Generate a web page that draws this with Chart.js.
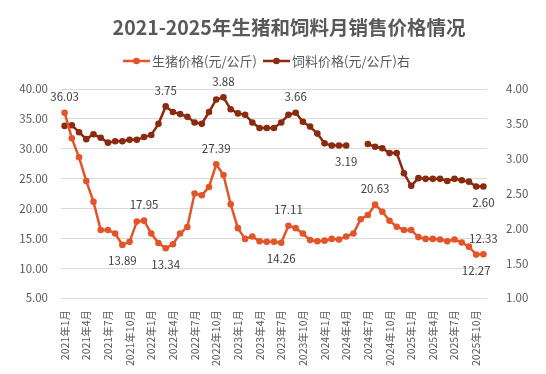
<!DOCTYPE html>
<html>
<head>
<meta charset="utf-8">
<script src="https://cdn.jsdelivr.net/npm/chart.js@4.4.1/dist/chart.umd.min.js"></script>
<style>
    html, body { margin: 0; padding: 0; background: #fff; }
    #wrap { width: 546px; height: 374px; }
</style>
</head>
<body>
<div id="wrap"><canvas id="priceChart"></canvas></div>
<script>
// 2021年1月 .. 2025年11月, monthly
const months = [];
for (let y = 2021; y <= 2025; y++) {
    for (let m = 1; m <= 12; m++) {
        if (months.length < 59) months.push(`${y}年${m}月`);
    }
}

const pigPrices = [
    36.03, 31.74, 28.56, 24.60, 21.10, 16.40, 16.40, 15.80, 13.89, 14.40, 17.80, 17.95,
    15.80, 14.20, 13.34, 14.00, 15.80, 16.90, 22.50, 22.20, 23.60, 27.39, 25.60, 20.70,
    16.70, 14.90, 15.30, 14.50, 14.40, 14.43, 14.26, 17.11, 16.70, 15.80, 14.70, 14.50,
    14.60, 14.90, 14.80, 15.30, 15.80, 18.20, 18.90, 20.63, 19.45, 17.94, 16.94, 16.40,
    16.40, 15.20, 14.90, 14.90, 14.80, 14.50, 14.80, 14.30, 13.60, 12.27, 12.33
];

const feedPrices = [
    3.47, 3.48, 3.38, 3.28, 3.35, 3.30, 3.23, 3.25, 3.25, 3.27, 3.27, 3.31,
    3.34, 3.50, 3.75, 3.67, 3.64, 3.60, 3.52, 3.50, 3.67, 3.85, 3.88, 3.71,
    3.65, 3.63, 3.52, 3.44, 3.44, 3.44, 3.52, 3.63, 3.66, 3.53, 3.46, 3.36,
    3.22, 3.19, 3.19, 3.19, null, null, 3.21, 3.17, 3.15, 3.08, 3.08, 2.79,
    2.61, 2.72, 2.71, 2.71, 2.71, 2.68, 2.71, 2.69, 2.67, 2.60, 2.60
];

// which points get a value label, and on which side
const pigLabelPoints = { 0: 'above', 8: 'below', 11: 'above', 14: 'below', 21: 'above',
    30: 'below', 31: 'above', 43: 'above', 57: 'below', 58: 'above' };
const feedLabelPoints = { 14: 'above', 22: 'above', 32: 'above', 39: 'below', 58: 'below' };

const titleText = '2021-2025年生猪和饲料月销售价格情况';
const seriesNames = ['生猪价格(元/公斤)', '饲料价格(元/公斤)右'];

const pigColor = '#E2552B';
const feedColor = '#8A2A0E';
const textColor = '#595959';
const fontFamily = '"Noto Sans CJK SC", "Noto Sans", sans-serif';

Chart.defaults.font.family = fontFamily;
Chart.defaults.color = textColor;

const headerPlugin = {
    id: 'header',
    afterDraw(chart) {
        const ctx = chart.ctx;
        ctx.save();
        ctx.fillStyle = textColor;
        ctx.textBaseline = 'middle';
        ctx.textAlign = 'center';
        ctx.font = `bold 19.5px ${fontFamily}`;
        ctx.fillText(titleText, 289, 28);

        // legend: line + dot + text
        ctx.font = `13px ${fontFamily}`;
        ctx.textAlign = 'left';
        const colors = [pigColor, feedColor];
        const starts = [123, 263];
        seriesNames.forEach((name, i) => {
            const x = starts[i];
            ctx.strokeStyle = colors[i];
            ctx.lineWidth = 2.5;
            ctx.beginPath();
            ctx.moveTo(x, 61);
            ctx.lineTo(x + 27, 61);
            ctx.stroke();
            ctx.fillStyle = colors[i];
            ctx.beginPath();
            ctx.arc(x + 13.5, 61, 3.3, 0, Math.PI * 2);
            ctx.fill();
            ctx.fillStyle = textColor;
            ctx.fillText(name, x + 29, 61);
        });
        ctx.restore();
    }
};

const valueLabelPlugin = {
    id: 'valueLabels',
    afterDatasetsDraw(chart) {
        const ctx = chart.ctx;
        ctx.save();
        ctx.font = `11.5px ${fontFamily}`;
        ctx.fillStyle = '#404040';
        ctx.textAlign = 'center';
        ctx.textBaseline = 'middle';
        [pigLabelPoints, feedLabelPoints].forEach((points, dsIndex) => {
            const meta = chart.getDatasetMeta(dsIndex);
            const values = chart.data.datasets[dsIndex].data;
            Object.keys(points).forEach(key => {
                const i = Number(key);
                const el = meta.data[i];
                const dy = points[key] === 'above' ? -16 : 16;
                ctx.fillText(values[i].toFixed(2), el.x, el.y + dy);
            });
        });
        ctx.restore();
    }
};

new Chart(document.getElementById('priceChart'), {
    type: 'line',
    data: {
        labels: months,
        datasets: [
            {
                label: seriesNames[0],
                data: pigPrices,
                yAxisID: 'y',
                borderColor: pigColor,
                backgroundColor: pigColor,
                borderWidth: 2.5,
                pointRadius: 3.3,
                pointBorderWidth: 0,
                pointBackgroundColor: pigColor,
                tension: 0
            },
            {
                label: seriesNames[1],
                data: feedPrices,
                yAxisID: 'y1',
                borderColor: feedColor,
                backgroundColor: feedColor,
                borderWidth: 2.5,
                pointRadius: 3.3,
                pointBorderWidth: 0,
                pointBackgroundColor: feedColor,
                spanGaps: false,
                tension: 0
            }
        ]
    },
    options: {
        responsive: true,
        maintainAspectRatio: false,
        animation: false,
        layout: { padding: { top: 89, left: 0, right: 0, bottom: 0 } },
        plugins: {
            legend: { display: false },
            title: { display: false },
            tooltip: { enabled: false }
        },
        scales: {
            x: {
                offset: true,
                grid: { display: false, drawTicks: false },
                border: { display: false },
                ticks: {
                    autoSkip: false,
                    minRotation: 90,
                    maxRotation: 90,
                    padding: 12,
                    font: { size: 10.5 },
                    color: textColor,
                    callback: (value, index) => index % 3 === 0 ? months[index] : null
                },
                afterFit(scale) { scale.height = 76; }
            },
            y: {
                position: 'left',
                min: 5,
                max: 40,
                grid: { color: '#D9D9D9', drawTicks: false },
                border: { display: false },
                ticks: {
                    stepSize: 5,
                    padding: 13,
                    font: { size: 11.5 },
                    color: textColor,
                    callback: v => v.toFixed(2)
                },
                afterFit(scale) { scale.width = 61; }
            },
            y1: {
                position: 'right',
                min: 1,
                max: 4,
                grid: { display: false, drawTicks: false },
                border: { display: false },
                ticks: {
                    stepSize: 0.5,
                    padding: 19,
                    font: { size: 11.5 },
                    color: textColor,
                    callback: v => v.toFixed(2)
                },
                afterFit(scale) { scale.width = 59; }
            }
        }
    },
    plugins: [headerPlugin, valueLabelPlugin]
});
</script>
</body>
</html>
